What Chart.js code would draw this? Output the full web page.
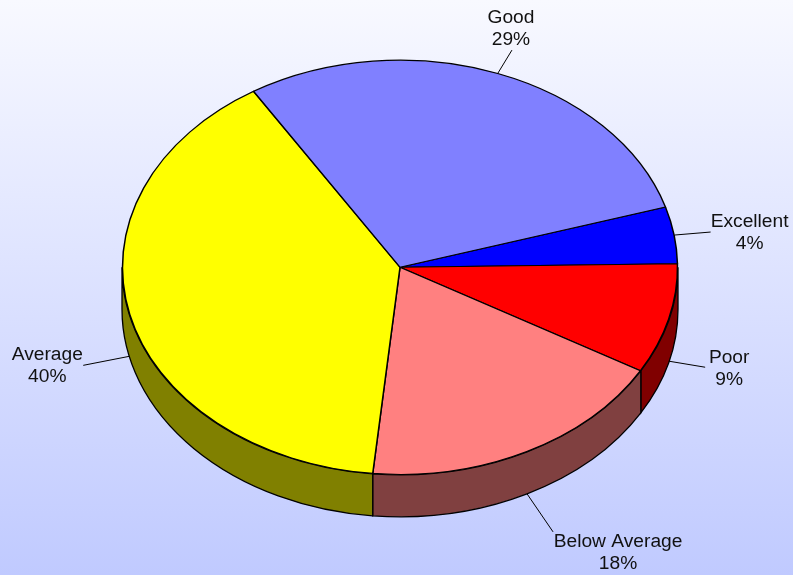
<!DOCTYPE html>
<html>
<head>
<meta charset="utf-8">
<script src="https://cdn.jsdelivr.net/npm/chart.js@4"></script>
<style>
html,body{margin:0;padding:0;width:793px;height:575px;overflow:hidden;background:linear-gradient(to bottom,#f8f9ff 0%,#c0caff 100%);}
canvas{display:block;}
</style>
</head>
<body>
<canvas id="c" width="793" height="575"></canvas>
<script>
const categories = ["Excellent", "Poor", "Below Average", "Average", "Good"];
const shares = [4.42, 8.6, 18.24, 39.59, 29.15];
const faceColors = ["#0000ff", "#ff0000", "#ff8080", "#ffff00", "#8080ff"];
const wallColors = ["#000080", "#800000", "#804040", "#808000", "#404080"];

const RADIUS_X = 278, RADIUS_Y = 207.5, CENTER_Y = 267.3, DEPTH = 42, ROTATION = 73.1;
const FONT = '19.2px "Liberation Sans", Arial, sans-serif';
const LINE_H = 22;
// leader end and label centre, relative to where the leader leaves the pie
const leaderEnd = [[36,-3],[36,6],[26,38],[-46,9],[14,-23]];
const labelCenter = [[75,-2],[60,7],[91,59],[-82,9],[13,-44]];

const squash = RADIUS_Y / RADIUS_X;
const total = shares.reduce((a, b) => a + b, 0);

const pie3d = {
  id: 'pie3d',
  beforeDatasetsDraw(chart) {
    const ctx = chart.ctx;
    const arcs = chart.getDatasetMeta(0).data;
    arcs.forEach((arc, i) => {
      const windows = [[0, Math.PI], [2 * Math.PI, 3 * Math.PI]];
      windows.forEach(([lo, hi]) => {
        const s = Math.max(arc.startAngle, lo), e = Math.min(arc.endAngle, hi);
        if (e <= s) return;
        ctx.beginPath();
        ctx.ellipse(arc.x, CENTER_Y, RADIUS_X, RADIUS_Y, 0, s, e, false);
        ctx.ellipse(arc.x, CENTER_Y + DEPTH, RADIUS_X, RADIUS_Y, 0, e, s, true);
        ctx.closePath();
        ctx.fillStyle = wallColors[i];
        ctx.fill();
        ctx.lineWidth = 1.3;
        ctx.strokeStyle = '#000';
        ctx.stroke();
      });
    });
    const a0 = arcs[0];
    ctx.save();
    ctx.translate(0, CENTER_Y);
    ctx.scale(1, squash);
    ctx.translate(0, -a0.y);
  },
  afterDatasetsDraw(chart) {
    const ctx = chart.ctx;
    ctx.restore();
    const arcs = chart.getDatasetMeta(0).data;
    ctx.font = FONT;
    ctx.textAlign = 'center';
    ctx.textBaseline = 'middle';
    arcs.forEach((arc, i) => {
      const mid = (arc.startAngle + arc.endAngle) / 2;
      const sin = Math.sin(mid);
      const ax = arc.x + RADIUS_X * Math.cos(mid);
      const ay = CENTER_Y + RADIUS_Y * sin + (sin > 0 ? DEPTH : 0);
      ctx.beginPath();
      ctx.moveTo(ax, ay);
      ctx.lineTo(ax + leaderEnd[i][0], ay + leaderEnd[i][1]);
      ctx.lineWidth = 1;
      ctx.strokeStyle = '#000';
      ctx.stroke();
      const lx = ax + labelCenter[i][0], ly = ay + labelCenter[i][1];
      ctx.fillStyle = '#111';
      ctx.fillText(categories[i], lx, ly - LINE_H / 2);
      ctx.fillText(Math.round(shares[i] / total * 100) + '%', lx, ly + LINE_H / 2);
    });
  }
};

new Chart(document.getElementById('c'), {
  type: 'pie',
  data: {
    labels: categories,
    datasets: [{
      data: shares,
      backgroundColor: faceColors,
      borderColor: '#000',
      borderWidth: 1.5,
      borderJoinStyle: 'round',
      clip: false
    }]
  },
  options: {
    responsive: false,
    animation: false,
    events: [],
    rotation: ROTATION,
    radius: RADIUS_X - 0.5,
    layout: { padding: { left: 7 } },
    plugins: { legend: { display: false }, tooltip: { enabled: false } }
  },
  plugins: [pie3d]
});
</script>
</body>
</html>
